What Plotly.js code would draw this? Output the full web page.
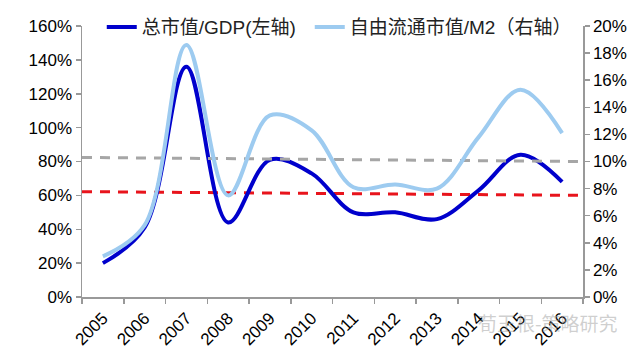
<!DOCTYPE html>
<html><head><meta charset="utf-8">
<script src="https://cdn.plot.ly/plotly-3.0.1.min.js"></script>
<style>body{margin:0;background:#fff}#chart{width:640px;height:357px}</style>
</head><body><div id="chart"></div>
<script>
const years = ['2005','2006','2007','2008','2009','2010','2011','2012','2013','2014','2015','2016'];
const mcapGdp = [0.20,0.41,1.36,0.44,0.81,0.73,0.50,0.50,0.46,0.63,0.84,0.68];
const floatM2 = [0.030,0.053,0.186,0.075,0.134,0.123,0.081,0.083,0.080,0.118,0.153,0.121];
const grayTrend = [0.103,0.100];  // right axis, start/end
const redTrend = [0.622,0.600];   // left axis, start/end
const leftTicks = [0,0.2,0.4,0.6,0.8,1.0,1.2,1.4,1.6];
const rightTicks = [0,0.02,0.04,0.06,0.08,0.10,0.12,0.14,0.16,0.18,0.20];
const legendNames = ['总市值/GDP(左轴)','自由流通市值/M2（右轴）'];
const watermark = '荀玉根-策略研究';

const xs = years.map((y,i)=>i+0.5);
const font = '"Liberation Sans", Arial, sans-serif';
const cjk = '"Liberation Sans", "Noto Sans CJK SC", sans-serif';

const traces = [
  {x:[0,12], y:grayTrend, yaxis:'y2', mode:'lines', line:{color:'#a6a6a6', width:3, dash:'10px,8px'}, showlegend:false, hoverinfo:'skip'},
  {x:[0,12], y:redTrend, mode:'lines', line:{color:'#e8141c', width:3, dash:'10px,8px'}, showlegend:false, hoverinfo:'skip'},
  {x:xs, y:floatM2, yaxis:'y2', name:legendNames[1], legend:'legend2', mode:'lines', line:{color:'#9dcbf0', width:4, shape:'spline', smoothing:1}},
  {x:xs, y:mcapGdp, name:legendNames[0], legend:'legend', mode:'lines', line:{color:'#0000cc', width:4, shape:'spline', smoothing:1}},
];

const legendCommon = {orientation:'h', xref:'container', yref:'container', xanchor:'left', yanchor:'middle',
  font:{family:cjk, size:19, color:'#222'}, bgcolor:'rgba(0,0,0,0)', itemwidth:30};

const layout = {
  width:640, height:357,
  margin:{l:82, r:57, t:26, b:60, autoexpand:false},
  paper_bgcolor:'#fff', plot_bgcolor:'#fff',
  font:{family:font, size:17, color:'#000'},
  showlegend:true,
  legend:Object.assign({}, legendCommon, {x:0.159, y:0.924}),
  legend2:Object.assign({}, legendCommon, {x:0.484, y:0.924}),
  xaxis:{range:[0,12], tickvals:[0,1,2,3,4,5,6,7,8,9,10,11,12], ticktext:['','','','','','','','','','','','',''],
         ticks:'outside', ticklen:5, tickcolor:'#999', tickwidth:1.5, showline:true, linecolor:'#999', linewidth:1.5,
         showgrid:false, zeroline:false, automargin:false},
  xaxis2:{overlaying:'x', range:[0,12], tickvals:xs, ticktext:years, tickangle:-45, ticks:'', automargin:false, ticklabelstandoff:7,
          showline:false, showgrid:false, zeroline:false, side:'bottom', tickfont:{size:17, family:font}},
  yaxis:{range:[0,1.6], tickvals:leftTicks, tickformat:'.0%', ticks:'outside', ticklen:5, tickcolor:'#999', tickwidth:1.5, automargin:false,
         showline:true, linecolor:'#999', linewidth:1.5, showgrid:false, zeroline:false, tickfont:{size:17}},
  yaxis2:{range:[0,0.2], overlaying:'y', side:'right', tickvals:rightTicks, tickformat:'.0%', ticks:'outside', ticklen:5, automargin:false,
          tickcolor:'#999', tickwidth:1.5, showline:true, linecolor:'#999', linewidth:1.5, showgrid:false, zeroline:false, tickfont:{size:17}},
  annotations:[{text:watermark, xref:'paper', yref:'paper', x:0.93, y:-0.095, xanchor:'center', yanchor:'middle', showarrow:false,
    font:{family:'"Noto Sans CJK SC", sans-serif', size:19, color:'rgba(160,160,160,0.5)'}}]
};
traces.push({x:[xs[0]], y:[null], xaxis:'x2', showlegend:false, hoverinfo:'skip', mode:'lines'});
Plotly.newPlot('chart', traces, layout, {staticPlot:true});
</script></body></html>
